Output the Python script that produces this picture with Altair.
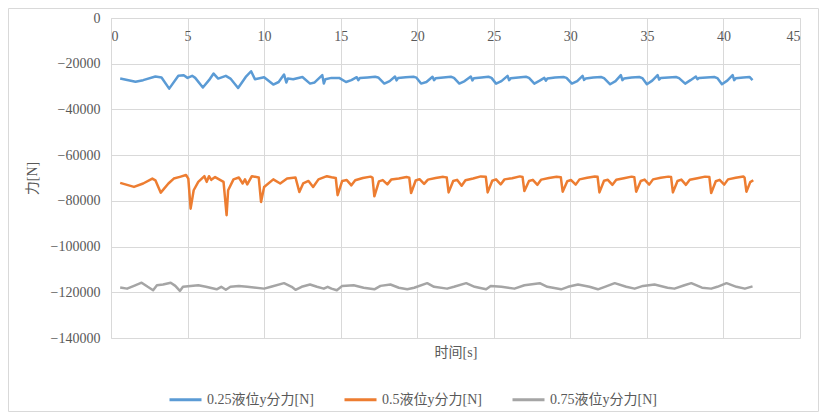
import altair as alt
import pandas as pd

# ---- data ----
series_names = ["0.25液位y分力[N]", "0.5液位y分力[N]", "0.75液位y分力[N]"]
series_colors = ["#5B9BD5", "#ED7D31", "#A5A5A5"]

t_blue = [0.6, 1.6, 2.1, 2.9, 3.3, 3.8, 4.4, 4.75, 5.0, 5.3, 5.5, 6.0, 6.4, 6.7, 7.0, 7.5, 7.8, 8.3,
          8.8, 9.15, 9.4, 10.0, 10.6, 10.95, 11.3, 11.45, 11.55, 11.9, 12.5, 13.0, 13.3, 13.8, 13.9,
          14.0, 14.4, 14.9,
          15.35, 15.7, 16.05, 16.15, 16.25, 16.75, 17.25, 17.45,
          17.85, 18.2, 18.55, 18.65, 18.75, 19.25, 19.75, 19.95,
          20.25, 20.6, 21.0, 21.1, 21.2, 21.7, 22.2, 22.4,
          22.75, 23.1, 23.5, 23.6, 23.7, 24.2, 24.65, 24.85,
          25.15, 25.5, 25.9, 26.0, 26.1, 26.6, 27.1, 27.3,
          27.65, 28.0, 28.3, 28.4, 28.5, 29.0, 29.55, 29.75,
          30.1, 30.45, 30.8, 30.9, 31.0, 31.5, 32.0, 32.2,
          32.6, 32.95, 33.3, 33.4, 33.5, 34.0, 34.5, 34.7,
          35.0, 35.35, 35.7, 35.8, 35.9, 36.4, 36.9, 37.1,
          37.5, 37.85, 38.2, 38.3, 38.4, 38.9, 39.4, 39.6,
          39.9, 40.25, 40.6, 40.7, 40.8, 41.3, 41.7, 41.9]
v_blue = [-26500, -27900, -27200, -25600, -26000, -30900, -25300, -25000, -26200, -25300, -26200,
          -30400, -27200, -24300, -26500, -25300, -26500, -30600, -25800, -23300, -26800, -25900,
          -29100, -28000, -24700, -28200, -26500, -26800, -25800, -28700, -28200, -25000, -28700,
          -26800, -26200, -26200,
          -28000, -27200, -25900, -27200, -26300, -26000, -25700, -26000,
          -28700, -27600, -25600, -27300, -26300, -25900, -25700, -26100,
          -28700, -28000, -25700, -27200, -26400, -26000, -25700, -26200,
          -28700, -27600, -25600, -27300, -26400, -26000, -25700, -26200,
          -28700, -27600, -25300, -27200, -26400, -26000, -25700, -26200,
          -28700, -27400, -26200, -27400, -26500, -26000, -25800, -26200,
          -28700, -27600, -25300, -27100, -26500, -26000, -25800, -26300,
          -29000, -27600, -25000, -27200, -26500, -26000, -25800, -26300,
          -29000, -27400, -25000, -26900, -26300, -26000, -25800, -26300,
          -28700, -27200, -25600, -26800, -26300, -26000, -25800, -26300,
          -29000, -27400, -25000, -27200, -26400, -26000, -25800, -27200]

t_orange = [0.6, 1.5, 2.1, 2.7, 2.9, 3.25, 3.75, 4.1, 4.5, 4.9, 5.05, 5.2, 5.4, 5.7, 6.1, 6.25, 6.4,
            6.55, 6.8, 7.35, 7.55, 7.65, 8.0, 8.35, 8.6, 8.75, 8.9, 9.2, 9.65, 9.8, 10.0, 10.6,
            11.05, 11.5, 12.05, 12.3, 12.55, 12.9, 13.2, 13.55, 14.1, 14.4,
            14.68, 14.8, 15.1, 15.4, 15.7, 15.95, 16.45, 16.95,
            17.08, 17.2, 17.5, 17.75, 18.05, 18.3, 18.8, 19.3,
            19.48, 19.6, 19.9, 20.15, 20.45, 20.7, 21.2, 21.7,
            21.93, 22.05, 22.35, 22.6, 22.9, 23.15, 23.65, 24.15,
            24.48, 24.6, 24.9, 25.15, 25.45, 25.7, 26.2, 26.7,
            26.88, 27.0, 27.3, 27.55, 27.85, 28.1, 28.6, 29.1,
            29.38, 29.5, 29.8, 30.05, 30.35, 30.6, 31.1, 31.6,
            31.78, 31.9, 32.2, 32.45, 32.75, 33.0, 33.5, 34.0,
            34.18, 34.3, 34.6, 34.85, 35.15, 35.4, 35.9, 36.4,
            36.58, 36.7, 37.0, 37.25, 37.55, 37.8, 38.3, 38.8,
            39.08, 39.2, 39.5, 39.75, 40.05, 40.3, 40.8, 41.3,
            41.38, 41.5, 41.75, 41.95]
v_orange = [-72150, -73900, -72400, -70250, -71000, -76400, -72400, -70250, -69500, -68700, -70250,
            -83400, -75350, -71700, -69200, -71700, -69200, -70800, -69600, -71700, -86300, -75350,
            -70600, -69800, -72400, -70600, -72800, -69200, -69800, -80500, -73900, -70600, -72400,
            -70250, -69800, -76100, -72400, -71300, -73900, -70600, -69200, -69700,
            -70000, -77500, -71300, -70900, -73200, -71000, -70000, -69400,
            -69800, -78000, -71500, -70900, -72800, -70700, -70200, -69600,
            -69900, -76600, -71100, -70500, -72600, -70700, -70000, -69500,
            -69800, -76300, -71300, -70800, -73400, -71000, -70200, -69300,
            -69500, -76300, -71200, -70600, -72800, -70600, -70100, -69300,
            -69600, -75700, -71300, -70800, -73000, -70700, -70000, -69500,
            -69700, -76000, -71400, -70900, -72900, -70600, -69900, -69300,
            -69500, -76300, -71200, -70800, -73000, -70800, -70100, -69400,
            -69700, -76000, -71300, -70700, -72900, -70600, -69900, -69400,
            -69600, -76300, -71300, -70700, -73000, -70800, -70100, -69400,
            -69600, -76600, -71400, -70800, -72900, -70600, -69900, -69300,
            -69800, -76000, -71800, -71000]

t_gray = [0.6, 1.05, 1.5, 2.0, 2.4, 2.75, 3.0, 3.4, 3.9, 4.2, 4.5, 4.7, 5.2, 5.7, 6.2, 6.9, 7.2,
          7.5, 7.8, 8.35, 8.9, 10.0, 10.45, 11.3, 11.8, 12.05, 12.45, 13.0, 13.45, 13.9, 14.15,
          14.4, 14.75, 15.1, 15.85, 16.5, 17.2, 17.6, 18.25, 18.8, 19.35, 19.8, 20.65, 21.1,
          21.95, 22.4, 23.2, 23.75, 24.5, 24.8, 25.5, 26.35, 27.0, 28.0, 28.5, 29.4, 29.85,
          30.5, 31.25, 31.8, 32.25, 32.9, 33.65, 34.2, 34.75, 35.5, 36.35, 36.8, 37.45, 37.9,
          38.6, 39.2, 39.6, 40.2, 40.85, 41.4, 41.9]
v_gray = [-117900, -118400, -117200, -115800, -117600, -119100, -116900, -116600, -115800, -117200,
          -119400, -117600, -117200, -116900, -117600, -118700, -117600, -118900, -117600, -117200,
          -117600, -118400, -117600, -116000, -117600, -118900, -117600, -116600, -117600, -118400,
          -117600, -118400, -119100, -117200, -116900, -118000, -118700, -117200, -116600, -118000,
          -118700, -118000, -116000, -117600, -118400, -117600, -116000, -117600, -118700, -117200,
          -117600, -118400, -116900, -116000, -117600, -118700, -117600, -116600, -117600, -118700,
          -117600, -116000, -117600, -118400, -117200, -116600, -118000, -118400, -116900, -116000,
          -118000, -118400, -117600, -116000, -117600, -118400, -117400]

x_ticks = [0, 5, 10, 15, 20, 25, 30, 35, 40, 45]
y_ticks = [0, -20000, -40000, -60000, -80000, -100000, -120000, -140000]

rows = []
for name, ts, vs in zip(series_names, [t_blue, t_orange, t_gray], [v_blue, v_orange, v_gray]):
    for i, (t, v) in enumerate(zip(ts, vs)):
        rows.append({"series": name, "t": t, "v": v, "order": i})
df = pd.DataFrame(rows)

FONT = "'Liberation Serif', 'Noto Sans CJK SC', serif"
LABEL_COLOR = "#595959"
GRID = "#d9d9d9"

axis_style = dict(labelFont=FONT, labelFontSize=14, labelColor=LABEL_COLOR,
                  titleFont=FONT, titleFontSize=14, titleColor=LABEL_COLOR,
                  titleFontWeight="normal", domainColor=GRID, gridColor=GRID,
                  gridWidth=1, domainWidth=1, tickSize=0, labelPadding=11)

lines = alt.Chart(df).mark_line(strokeWidth=2.5, strokeJoin="round").encode(
    x=alt.X("t:Q",
            scale=alt.Scale(domain=[0, 45], nice=False),
            axis=alt.Axis(orient="bottom", offset=-320, values=x_ticks, format="d",
                          title="时间[s]", titleX=344.5, titleY=334, titleAlign="center",
                          titleBaseline="middle", labelBaseline="top", **axis_style)),
    y=alt.Y("v:Q",
            scale=alt.Scale(domain=[-140000, 0], nice=False),
            axis=alt.Axis(values=y_ticks, format="d", title="力[N]", titleX=-79, titleY=160,
                          titleAlign="center", titleBaseline="middle", **axis_style)),
    color=alt.Color("series:N",
                    scale=alt.Scale(domain=series_names, range=series_colors),
                    legend=alt.Legend(title=None, orient="none", legendX=57, legendY=364,
                                      direction="horizontal", symbolType="stroke",
                                      symbolSize=1024, symbolStrokeWidth=3,
                                      labelFont=FONT, labelFontSize=14,
                                      labelColor=LABEL_COLOR, columnPadding=24,
                                      labelOffset=4)),
    order="order:Q",
)

border = alt.Chart(pd.DataFrame({"a": [0]})).mark_rect(
    fillOpacity=0, stroke=GRID, strokeWidth=1
).encode(x=alt.value(-102.5), x2=alt.value(707.5), y=alt.value(-9.5), y2=alt.value(393.5))

chart = alt.layer(border, lines).properties(
    width=689, height=320,
    padding={"left": 103, "top": 10, "right": 19, "bottom": 74},
    autosize=alt.AutoSizeParams(type="none"),
    background="white",
).configure_view(strokeWidth=0)

chart.save("out.html", embed_options={"renderer": "svg", "actions": False})
